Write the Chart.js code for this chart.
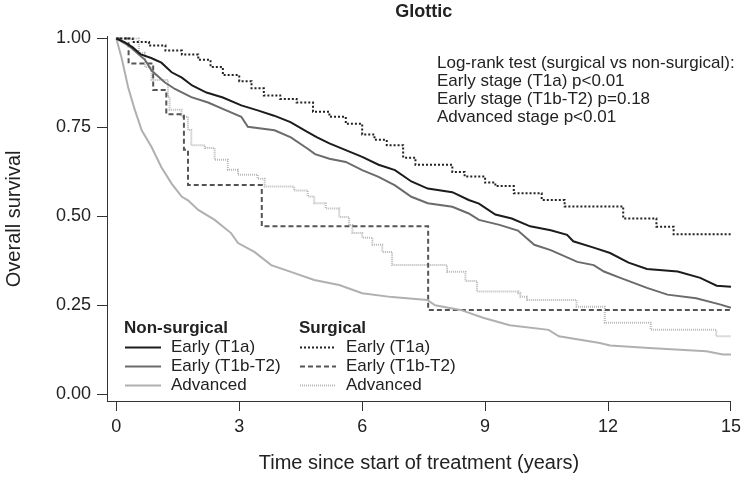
<!DOCTYPE html>
<html>
<head>
<meta charset="utf-8">
<script src="https://cdn.jsdelivr.net/npm/chart.js@4.4.1/dist/chart.umd.min.js"></script>
<style>
  body { margin: 0; background: #fff; }
</style>
</head>
<body>
<canvas id="chart" width="746" height="478"></canvas>
<script>
// Kaplan-Meier curves, values
const chartTitle = 'Glottic';
const xTicks = [0, 3, 6, 9, 12, 15];
const yTicks = [0, 0.25, 0.5, 0.75, 1];

const nsT1aTime = [0, 0.2, 0.4, 0.6, 0.85, 1.1, 1.35, 1.6, 1.85, 2.2, 2.6, 3.05, 3.45, 3.85, 4.25, 4.65, 4.9, 5.2, 5.6, 6.0, 6.4, 6.8, 7.2, 7.6, 8.2, 8.6, 8.85, 9.25, 9.65, 10.1, 10.6, 11.0, 11.15, 11.65, 12.05, 12.5, 12.95, 13.7, 14.25, 14.65, 15];
const nsT1aSurv = [1, 0.99, 0.975, 0.955, 0.945, 0.932, 0.905, 0.89, 0.868, 0.848, 0.834, 0.812, 0.798, 0.783, 0.765, 0.738, 0.722, 0.705, 0.686, 0.667, 0.645, 0.63, 0.598, 0.578, 0.568, 0.546, 0.536, 0.505, 0.494, 0.472, 0.461, 0.448, 0.43, 0.412, 0.397, 0.37, 0.352, 0.345, 0.327, 0.305, 0.302];

const nsT1bTime = [0, 0.3, 0.55, 0.7, 0.86, 1.18, 1.43, 1.83, 2.24, 2.64, 3.05, 3.21, 3.86, 4.26, 4.67, 4.85, 5.2, 5.6, 6.0, 6.4, 6.8, 7.2, 7.6, 8.2, 8.6, 8.85, 9.35, 9.8, 10.2, 10.6, 11.25, 11.65, 11.9, 12.3, 12.95, 13.45, 14.15, 14.75, 15];
const nsT1bSurv = [1, 0.98, 0.955, 0.94, 0.91, 0.877, 0.858, 0.835, 0.82, 0.8, 0.78, 0.752, 0.742, 0.722, 0.69, 0.675, 0.662, 0.653, 0.63, 0.611, 0.587, 0.555, 0.537, 0.527, 0.508, 0.49, 0.476, 0.46, 0.42, 0.405, 0.372, 0.363, 0.345, 0.327, 0.299, 0.28, 0.27, 0.252, 0.243];

const nsAdvTime = [0, 0.13, 0.29, 0.45, 0.62, 0.86, 1.1, 1.35, 1.6, 1.75, 2.0, 2.4, 2.8, 2.97, 3.37, 3.78, 4.26, 4.83, 5.44, 6.0, 6.73, 7.59, 7.78, 8.4, 8.95, 9.6, 10.55, 10.8, 11.8, 12.05, 13.0, 14.4, 14.8, 15];
const nsAdvSurv = [1, 0.945, 0.862, 0.8, 0.742, 0.695, 0.638, 0.592, 0.555, 0.545, 0.518, 0.49, 0.453, 0.425, 0.4, 0.363, 0.344, 0.321, 0.307, 0.284, 0.273, 0.265, 0.25, 0.237, 0.215, 0.194, 0.181, 0.163, 0.144, 0.137, 0.13, 0.121, 0.112, 0.112];

const sT1aTime = [0, 0.4, 0.8, 1.2, 1.6, 2.0, 2.3, 2.6, 3.0, 3.3, 3.6, 4.0, 4.4, 4.8, 5.2, 5.6, 6.0, 6.3, 6.6, 7.0, 7.3, 8.2, 8.5, 9.0, 9.25, 9.7, 10.38, 10.94, 12.37, 13.18, 13.6, 15];
const sT1aSurv = [1, 0.99, 0.98, 0.966, 0.955, 0.94, 0.92, 0.897, 0.88, 0.86, 0.84, 0.83, 0.82, 0.794, 0.78, 0.76, 0.73, 0.715, 0.7, 0.665, 0.645, 0.625, 0.612, 0.595, 0.585, 0.565, 0.546, 0.528, 0.494, 0.471, 0.45, 0.45];

const sT1bTime = [0, 0.3, 0.9, 1.22, 1.65, 1.75, 3.55, 7.61, 15];
const sT1bSurv = [1, 0.93, 0.855, 0.787, 0.687, 0.588, 0.472, 0.237, 0.237];

const sAdvTime = [0, 0.55, 0.7, 0.86, 1.26, 1.3, 1.59, 1.75, 1.83, 2.16, 2.4, 2.72, 2.97, 3.45, 3.62, 4.34, 4.67, 4.83, 5.11, 5.44, 5.68, 5.76, 6.0, 6.25, 6.49, 6.73, 8.07, 8.52, 8.8, 9.81, 9.86, 10.02, 11.23, 11.92, 13.04, 14.64, 15];
const sAdvSurv = [1, 0.96, 0.92, 0.883, 0.836, 0.8, 0.78, 0.743, 0.7, 0.692, 0.659, 0.631, 0.617, 0.606, 0.584, 0.573, 0.556, 0.537, 0.522, 0.498, 0.476, 0.453, 0.44, 0.42, 0.4, 0.363, 0.344, 0.318, 0.289, 0.284, 0.274, 0.265, 0.246, 0.201, 0.181, 0.163, 0.163];

const testLines = [
	'Log-rank test (surgical vs non-surgical):',
	'Early stage (T1a) p<0.01',
	'Early stage (T1b-T2) p=0.18',
	'Advanced stage p<0.01',
];

const FONT = '"Liberation Sans", Arial, sans-serif';

function toPoints(times, surv) {
	return times.map((t, i) => ({ x: t, y: surv[i] }));
}

// the big non-surgical groups have tiny steps, so they are drawn as plain lines
function curve(label, times, surv, color, dash, stepped) {
	return {
		label,
		data: toPoints(times, surv),
		borderColor: color,
		borderWidth: 2,
		borderDash: dash,
		stepped,
		tension: 0,
		pointRadius: 0,
		fill: false,
	};
}

const datasets = [
	curve('Early (T1a)', nsT1aTime, nsT1aSurv, '#1c1c1c', [], false),
	curve('Early (T1b-T2)', nsT1bTime, nsT1bSurv, '#6b6b6b', [], false),
	curve('Advanced', nsAdvTime, nsAdvSurv, '#b0b0b0', [], false),
	curve('Early (T1a)', sT1aTime, sT1aSurv, '#222222', [2, 2], true),
	curve('Early (T1b-T2)', sT1bTime, sT1bSurv, '#555555', [5, 3], true),
	curve('Advanced', sAdvTime, sAdvSurv, '#b8b8b8', [1, 1], true),
];

const legendGroups = [
	{ title: 'Non-surgical', x: 124, sets: [0, 1, 2] },
	{ title: 'Surgical', x: 299, sets: [3, 4, 5] },
];

// title, log-rank text and the two-column legend
const extraText = {
	id: 'extraText',
	afterDraw(chart) {
		const ctx = chart.ctx;
		const xs = chart.scales.x;
		ctx.save();
		ctx.fillStyle = '#222';
		ctx.textBaseline = 'middle';

		ctx.font = 'bold 18px ' + FONT;
		ctx.textAlign = 'center';
		const mid = (xs.getPixelForValue(xTicks[0]) + xs.getPixelForValue(xTicks[xTicks.length - 1])) / 2;
		ctx.fillText(chartTitle, mid, 12);

		ctx.textAlign = 'left';
		ctx.font = '17px ' + FONT;
		testLines.forEach((line, i) => ctx.fillText(line, 437, 63 + i * 18));

		legendGroups.forEach((g) => {
			ctx.font = 'bold 17px ' + FONT;
			ctx.fillStyle = '#222';
			ctx.fillText(g.title, g.x, 328);
			ctx.font = '17px ' + FONT;
			g.sets.forEach((idx, row) => {
				const ds = datasets[idx];
				const y = 347.5 + row * 19;
				ctx.beginPath();
				ctx.setLineDash(ds.borderDash);
				ctx.strokeStyle = ds.borderColor;
				ctx.lineWidth = 2;
				ctx.moveTo(g.x + 1, y);
				ctx.lineTo(g.x + 37, y);
				ctx.stroke();
				ctx.setLineDash([]);
				ctx.fillStyle = '#222';
				ctx.fillText(ds.label, g.x + 47, y);
			});
		});
		ctx.restore();
	},
};

const ctx = document.getElementById('chart').getContext('2d');
const chart = new Chart(ctx, {
	type: 'line',
	data: { datasets },
	plugins: [extraText],
	options: {
		responsive: false,
		animation: false,
		devicePixelRatio: 1,
		layout: { padding: { top: 36.7, right: 9, left: 0, bottom: 0 } },
		plugins: {
			legend: { display: false },
			tooltip: { enabled: false },
		},
		scales: {
			x: {
				type: 'linear',
				min: -0.227,
				max: 15,
				afterBuildTicks: (scale) => {
					scale.ticks = xTicks.map((v) => ({ value: v }));
				},
				afterFit: (scale) => {
					scale.height = 77;
				},
				grid: {
					drawOnChartArea: false,
					drawTicks: true,
					tickLength: 10,
					color: '#333',
				},
				border: { display: true, color: '#333', width: 1 },
				ticks: {
					color: '#222',
					font: { size: 18, family: FONT },
					padding: 5,
					maxRotation: 0,
					callback: (v) => String(v),
				},
				title: {
					display: true,
					text: 'Time since start of treatment (years)',
					color: '#222',
					font: { size: 20, family: FONT },
					padding: { top: 0, bottom: 3 },
				},
			},
			y: {
				min: -0.019,
				max: 1.005,
				afterBuildTicks: (scale) => {
					scale.ticks = yTicks.map((v) => ({ value: v }));
				},
				afterFit: (scale) => {
					scale.width = 107;
				},
				grid: {
					drawOnChartArea: false,
					drawTicks: true,
					tickLength: 10,
					color: '#333',
				},
				border: { display: true, color: '#333', width: 1 },
				ticks: {
					color: '#222',
					font: { size: 18, family: FONT },
					padding: 6,
					callback: (v) => v.toFixed(2),
				},
				title: {
					display: true,
					text: 'Overall survival',
					color: '#222',
					font: { size: 20, family: FONT },
					padding: { top: 2, bottom: 0 },
				},
			},
		},
	},
});
</script>
</body>
</html>
